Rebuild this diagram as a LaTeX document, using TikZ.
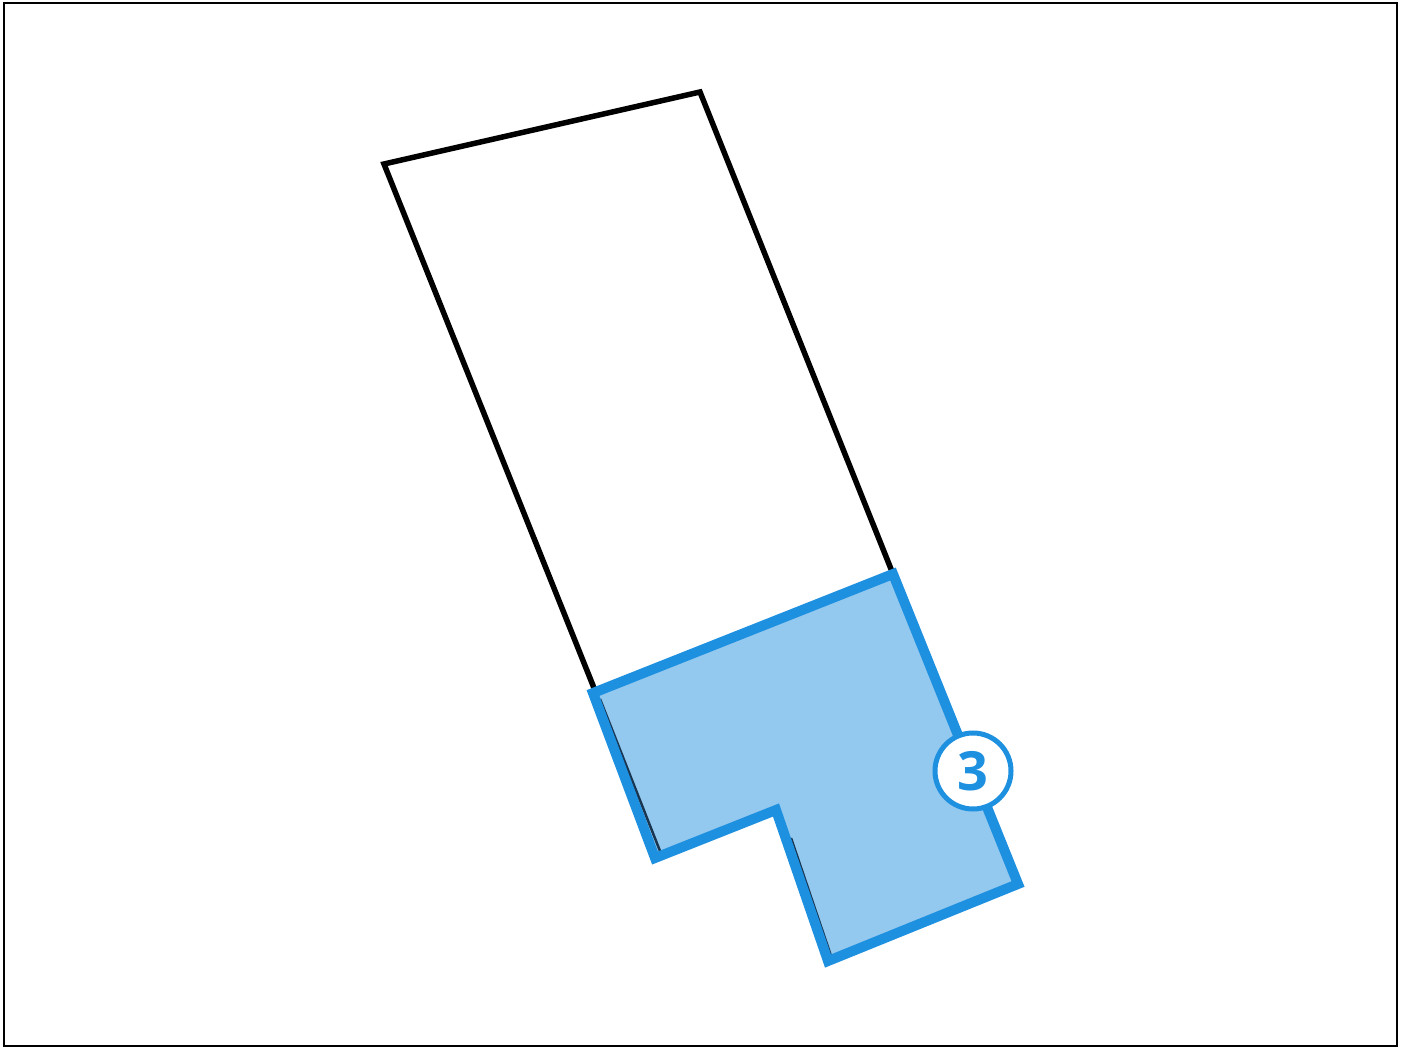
\documentclass[tikz,border=0pt]{standalone}
\usepackage{fontspec}
\newfontfamily\labelfont{Open Sans}
\definecolor{bblue}{HTML}{1E90E0}
\definecolor{lblue}{HTML}{93C8EF}
\definecolor{darkedge}{HTML}{1A3550}
\tikzset{
  plot/.style={draw=black, line width=5.5pt, line join=miter},
  zone/.style={draw=bblue, fill=lblue, line width=10pt, line join=miter},
  inner/.style={draw=darkedge, line width=2.5pt},
  badge/.style={circle, draw=bblue, fill=white, line width=5pt, minimum size=76pt, inner sep=0pt, text=bblue, font=\labelfont\bfseries\fontsize{54}{54}\selectfont}
}
\begin{document}
\begin{tikzpicture}[x=1pt,y=-1pt]
\useasboundingbox (0,0) rectangle (1406,1048);
\draw[line width=2.5pt] (4,3) rectangle (1397,1046);
% original plot
\coordinate (p1) at (384,164);
\coordinate (p2) at (700,92);
\coordinate (p3) at (893,574);
\coordinate (p4) at (596,693);
\draw[plot] (p4) -- (p1) -- (p2) -- (p3);
% zone
\coordinate (z1) at (593,693);
\coordinate (z2) at (893,574);
\coordinate (z3) at (1018,884);
\coordinate (z4) at (828,961);
\coordinate (z5) at (776,810);
\coordinate (z6) at (655,858);
\fill[lblue] (z1) -- (z2) -- (z3) -- (z4) -- (z5) -- (z6) -- cycle;
\coordinate (d1) at (600,699);
\coordinate (d2) at (660,851);
\coordinate (d3) at (791,838);
\coordinate (d4) at (831,956);
\draw[inner] (d1) -- (d2);
\draw[inner] (d3) -- (d4);
\draw[zone, fill=none] (z1) -- (z2) -- (z3) -- (z4) -- (z5) -- (z6) -- cycle;
\node[badge] (b3) at (973,771) {3};
\end{tikzpicture}
\end{document}
